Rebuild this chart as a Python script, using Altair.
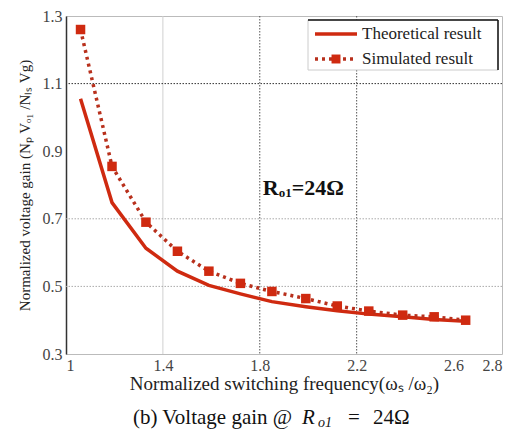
import altair as alt
import pandas as pd

# ---- data ----
freq = [1.06, 1.19, 1.33, 1.46, 1.59, 1.72, 1.85, 1.99, 2.12, 2.25, 2.39, 2.52, 2.65]
theoretical = [1.055, 0.748, 0.613, 0.545, 0.503, 0.478, 0.455, 0.440, 0.428, 0.418, 0.410, 0.402, 0.397]
simulated = [1.26, 0.855, 0.69, 0.604, 0.545, 0.509, 0.485, 0.464, 0.442, 0.427, 0.415, 0.410, 0.400]

x_ticks = [1, 1.4, 1.8, 2.2, 2.6, 2.8]
y_ticks = [0.3, 0.5, 0.7, 0.9, 1.1, 1.3]
grid_x_light = [1.4]
grid_x_dark = [1.8, 2.2]
grid_y_light = [0.5, 0.7]
grid_y_dark = [1.1]

series_names = ["Theoretical result", "Simulated result"]
RED = "#cf2a10"
DOT_RED = "#b8301c"
SERIF = "Liberation Serif"

df = pd.DataFrame({"f": freq, "theo": theoretical, "sim": simulated})

xs = alt.Scale(domain=[1, 2.8], nice=False, zero=False)
ys = alt.Scale(domain=[0.3, 1.3], nice=False, zero=False)

xaxis = alt.Axis(values=x_ticks, title="Normalized switching frequency(ωₛ /ω₂)",
                 grid=False, labelExpr="datum.value == 1 ? '1' : format(datum.value, '.1f')")
yaxis = alt.Axis(values=y_ticks, title="Normalized voltage gain (Nₚ Vₒ₁ /Nₗₛ Vg)",
                 grid=False, format=".1f")

base = alt.Chart(df)


def one():
    return alt.Chart(pd.DataFrame({"a": [0]}))


gxl = alt.Chart(pd.DataFrame({"v": grid_x_light})).mark_rule(color="#d0d0d0", strokeWidth=1).encode(
    x=alt.X("v:Q", scale=xs, axis=xaxis))
gxd = alt.Chart(pd.DataFrame({"v": grid_x_dark})).mark_rule(color="#555", strokeWidth=1, strokeDash=[1.5, 1.5]).encode(
    x=alt.X("v:Q", scale=xs))
gyl = alt.Chart(pd.DataFrame({"v": grid_y_light})).mark_rule(color="#aaa", strokeWidth=1, strokeDash=[1.5, 1.5]).encode(
    y=alt.Y("v:Q", scale=ys, axis=yaxis))
gyd = alt.Chart(pd.DataFrame({"v": grid_y_dark})).mark_rule(color="#333", strokeWidth=1, strokeDash=[1.5, 1.5]).encode(
    y=alt.Y("v:Q", scale=ys))

theo_line = base.mark_line(color=RED, strokeWidth=3.5).encode(
    x=alt.X("f:Q", scale=xs), y=alt.Y("theo:Q", scale=ys))
sim_line = base.mark_line(color=DOT_RED, strokeWidth=3.5, strokeDash=[3, 4]).encode(
    x=alt.X("f:Q", scale=xs), y=alt.Y("sim:Q", scale=ys))
sim_pts = base.mark_square(color=RED, size=90, opacity=1).encode(
    x=alt.X("f:Q", scale=xs), y=alt.Y("sim:Q", scale=ys))

# annotation R_o1 = 24 Ω
ann_df = pd.DataFrame({"x": [1.812], "y": [0.79]})
ann_parts = []
for txt, size, dx, dy in [("R", 22, 0, 0), ("o1", 13, 16, 5), ("=24Ω", 22, 29, 0)]:
    ann_parts.append(alt.Chart(ann_df).mark_text(
        align="left", baseline="middle", font=SERIF, fontSize=size, fontWeight="bold",
        color="#111", dx=dx, dy=dy, text=txt).encode(
        x=alt.X("x:Q", scale=xs), y=alt.Y("y:Q", scale=ys)))

# ---- legend (drawn in pixel space of the plot area) ----
leg_box = one().mark_rect(fill="white", stroke="#ccc", strokeWidth=1).encode(
    x=alt.value(242), x2=alt.value(432), y=alt.value(4), y2=alt.value(54))
leg_top = one().mark_rule(color="#111", strokeWidth=1.5).encode(
    x=alt.value(242), x2=alt.value(432), y=alt.value(4))
leg_right = one().mark_rule(color="#111", strokeWidth=1.5).encode(
    x=alt.value(432), y=alt.value(4), y2=alt.value(54))
leg_l1 = one().mark_rule(color=RED, strokeWidth=3.5).encode(
    x=alt.value(249), x2=alt.value(291), y=alt.value(18))
leg_l2 = one().mark_rule(color=DOT_RED, strokeWidth=3.5, strokeDash=[3, 4]).encode(
    x=alt.value(249), x2=alt.value(291), y=alt.value(43))
leg_sq = one().mark_square(color=RED, size=80, opacity=1).encode(
    x=alt.value(270), y=alt.value(43))
leg_t1 = alt.Chart(pd.DataFrame({"t": [series_names[0]]})).mark_text(
    align="left", baseline="middle", font=SERIF, fontSize=17, color="#222").encode(
    x=alt.value(296), y=alt.value(18), text="t:N")
leg_t2 = alt.Chart(pd.DataFrame({"t": [series_names[1]]})).mark_text(
    align="left", baseline="middle", font=SERIF, fontSize=17, color="#222").encode(
    x=alt.value(296), y=alt.value(43), text="t:N")

# ---- caption below the chart: (b) Voltage gain @ R_o1 = 24Ω ----
cap_parts = []
for txt, size, x, dy, style in [("(b) Voltage gain @", 21, 67, 0, "normal"),
                                ("R", 21, 236, 0, "italic"),
                                ("o1", 14, 252, 5, "italic"),
                                ("=", 21, 282, 0, "normal"),
                                ("24Ω", 21, 307, 0, "normal")]:
    cap_parts.append(one().mark_text(
        align="left", baseline="middle", font=SERIF, fontSize=size, fontStyle=style,
        color="#111", dy=dy, text=txt).encode(x=alt.value(x), y=alt.value(402)))

chart = alt.layer(
    gxl, gxd, gyl, gyd, theo_line, sim_line, sim_pts, *ann_parts,
    leg_box, leg_top, leg_right, leg_l1, leg_l2, leg_sq, leg_t1, leg_t2, *cap_parts
).properties(
    width=436, height=338,
    padding={"left": 58, "top": 8, "right": 4, "bottom": 76},
    autosize=alt.AutoSizeParams(type="none"),
).configure_view(stroke="#bbb", strokeWidth=1).configure_axis(
    labelFont=SERIF, labelFontSize=16, labelColor="#444", titleFont=SERIF,
    titleFontWeight="normal", titleColor="#222", domainColor="#333",
    ticks=False, labelPadding=4
).configure_axisY(titleFontSize=15, titlePadding=10, domainWidth=1.5).configure_axisX(
    titleFontSize=19, titlePadding=1, domain=False, labelPadding=3)

chart.save("out.html", embed_options={"renderer": "svg", "actions": False})
